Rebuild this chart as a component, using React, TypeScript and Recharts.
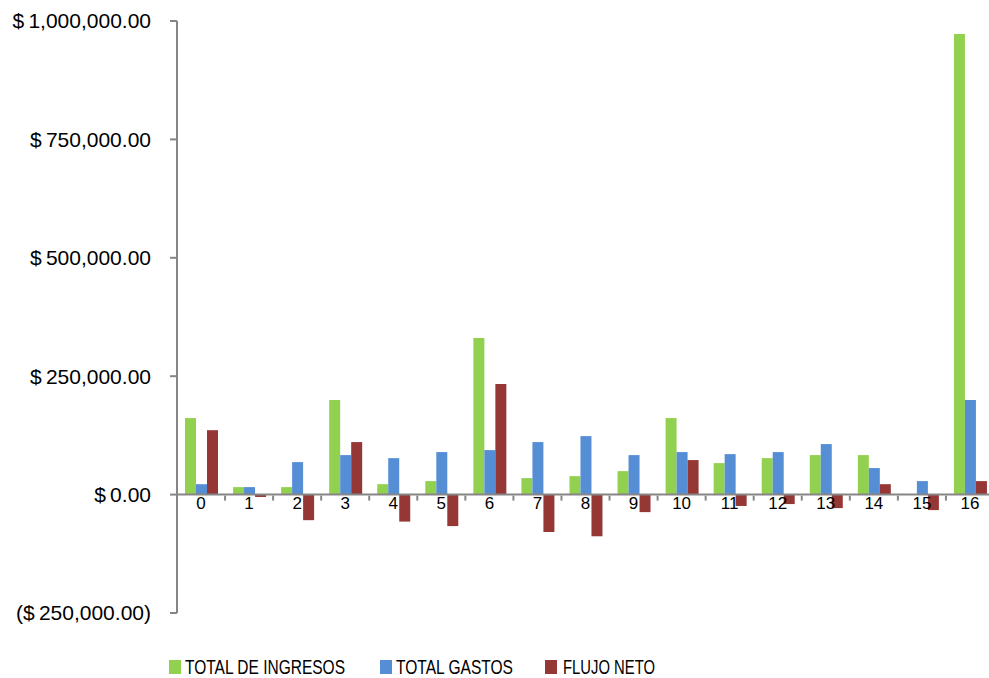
import React from 'react';
import { BarChart, Bar, XAxis, YAxis, ReferenceLine, Legend } from 'recharts';

const periods = ['0', '1', '2', '3', '4', '5', '6', '7', '8', '9', '10', '11', '12', '13', '14', '15', '16'];
const ingresos = [161600, 15800, 15800, 199600, 22000, 28500, 330500, 34800, 39000, 49600, 161600, 66500, 77000, 83400, 83400, 0, 972600];
const gastos = [22000, 15800, 68600, 83400, 77000, 89800, 94000, 110900, 123500, 83400, 89800, 85500, 89800, 106700, 56000, 28500, 199600];
const flujo = [136000, -5000, -54000, 110900, -57000, -66500, 233400, -79000, -88000, -37000, 72900, -24000, -20000, -28500, 22000, -32700, 28500];
const yTicks = [-250000, 0, 250000, 500000, 750000, 1000000];
const seriesNames = ['TOTAL DE INGRESOS', 'TOTAL GASTOS', 'FLUJO NETO'];

const data = periods.map((p, i) => ({
  periodo: p,
  ingresos: ingresos[i],
  gastos: gastos[i],
  flujo: flujo[i],
}));

const AXIS = '#868686';
const CHART_W = 1000;
const CHART_H = 678;
const TOP = 21;
const LEGEND_H = 45;
const XAXIS_H = 20;
const PLOT_H = CHART_H - TOP - LEGEND_H - XAXIS_H;
const Y_MIN = -250000;
const Y_MAX = 1000000;
// distance from plot bottom up to the zero line
const ZERO_RISE = (PLOT_H * (0 - Y_MIN)) / (Y_MAX - Y_MIN);

const money = (v: number) => {
  const s = Math.abs(v).toLocaleString('en-US', { minimumFractionDigits: 2, maximumFractionDigits: 2 });
  return v < 0 ? `($\u2009${s})` : `$\u2009${s}`;
};

const PeriodTick = (props: any) => {
  const { x, y, payload, index } = props;
  const zeroY = y - ZERO_RISE;
  const half = payload?.offset || 24;
  return (
    <g>
      {index > 0 && <line x1={x - half} x2={x - half} y1={zeroY + 1} y2={zeroY + 6} stroke={AXIS} strokeWidth={2} />}
      <text x={x} y={zeroY + 14} textAnchor="middle" fontSize={17} fill="#000" fontFamily="'Liberation Sans', Arial, sans-serif">
        {payload.value}
      </text>
    </g>
  );
};

// legend slots, in series order
const legendLayout = [
  { box: 169, text: 185, width: 160 },
  { box: 380, text: 396, width: 117 },
  { box: 545, text: 563, width: 92 },
];

const LegendContent = (props: any) => {
  const items = props.payload || [];
  return (
    <svg width={989} height={LEGEND_H} style={{ display: 'block' }}>
      {items.map((it: any) => {
        const l = legendLayout[seriesNames.indexOf(it.value)];
        if (!l) return null;
        return (
          <g key={it.value}>
            <rect x={l.box} y={27} width={12} height={14} fill={it.color} />
            <text
              x={l.text}
              y={41}
              fontSize={21}
              textLength={l.width}
              lengthAdjust="spacingAndGlyphs"
              fontFamily="'Liberation Sans', Arial, sans-serif"
              fill="#000"
            >
              {it.value}
            </text>
          </g>
        );
      })}
    </svg>
  );
};

export default function App() {
  return (
    <div style={{ position: 'fixed', left: 0, top: 0, width: 989, height: 678, overflow: 'hidden', background: '#fff' }}>
      <BarChart
        width={CHART_W}
        height={CHART_H}
        data={data}
        margin={{ top: TOP, right: 6, left: 0, bottom: 0 }}
        barSize={11}
        barGap={0}
      >
        <XAxis
          dataKey="periodo"
          height={XAXIS_H}
          axisLine={false}
          tickLine={false}
          tickSize={0}
          tickMargin={0}
          interval={0}
          tick={<PeriodTick />}
        />
        <YAxis
          width={177}
          domain={[Y_MIN, Y_MAX]}
          ticks={yTicks}
          interval={0}
          tickFormatter={money}
          stroke={AXIS}
          axisLine={{ stroke: AXIS, strokeWidth: 2 }}
          tickLine={{ stroke: AXIS, strokeWidth: 2 }}
          tickSize={7}
          tickMargin={19}
          tick={{ fill: '#000', fontSize: 21, fontFamily: "'Liberation Sans', Arial, sans-serif" }}
        />
        <ReferenceLine y={0} stroke={AXIS} strokeWidth={2} />
        <Legend verticalAlign="bottom" height={LEGEND_H} wrapperStyle={{ left: 0, width: 989 }} content={<LegendContent />} />
        <Bar dataKey="ingresos" name={seriesNames[0]} fill="#92D050" isAnimationActive={false} />
        <Bar dataKey="gastos" name={seriesNames[1]} fill="#558ED5" isAnimationActive={false} />
        <Bar dataKey="flujo" name={seriesNames[2]} fill="#953735" isAnimationActive={false} />
      </BarChart>
    </div>
  );
}
